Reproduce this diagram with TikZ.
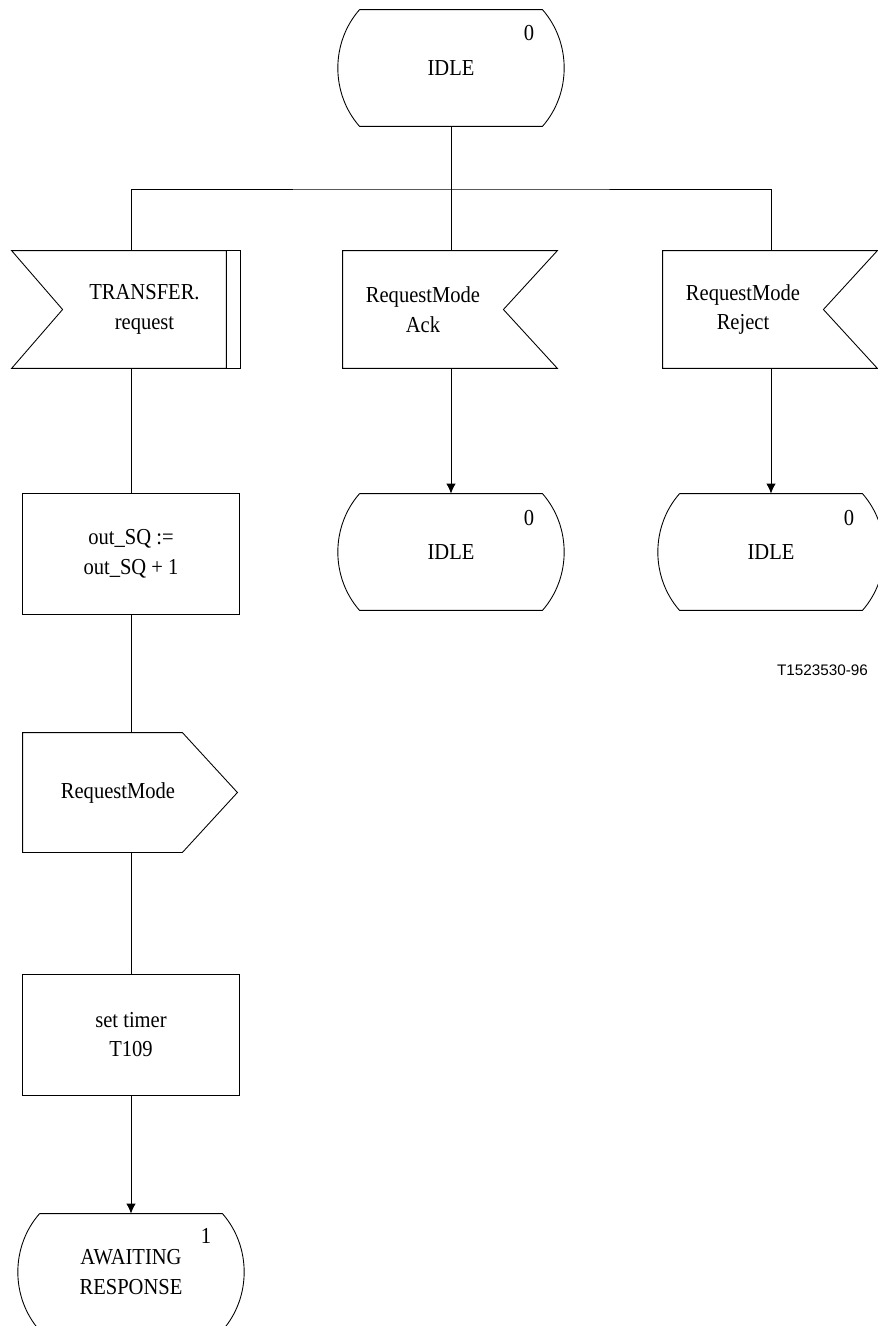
\documentclass[tikz,border=0pt]{standalone}
\usepackage{fontspec}
\setmainfont{Liberation Serif}[FakeStretch=0.9]
\setsansfont{Liberation Sans}
\usetikzlibrary{calc, arrows.meta}

\tikzset{
  base/.style={inner sep=0pt, align=center, font=\fontsize{13}{17}\selectfont},
  statebox/.style={base, minimum width=3.64cm, minimum height=2.32cm},
  taskbox/.style={base, draw, minimum width=4.34cm, minimum height=2.42cm},
  inbox/.style={base, minimum height=2.34cm},
  outbox/.style={base, minimum width=3.8cm, minimum height=2.38cm},
  flow/.style={-{Latex[length=2mm,width=1.9mm]}},
}

% SDL symbols drawn round a node
\newcommand{\statesym}[1]{%
  \draw (#1.north west) -- (#1.north east)
    .. controls +(29,33) and +(29,-33) .. (#1.south east)
    -- (#1.south west)
    .. controls +(-29,-33) and +(-29,33) .. (#1.north west);}
\newcommand{\insigL}[1]{%
  \draw ($(#1.north west)+(-51,0)$) -- (#1.north east) -- (#1.south east)
    -- ($(#1.south west)+(-51,0)$) -- (#1.west) -- cycle;}
\newcommand{\insigR}[1]{%
  \draw ($(#1.north east)+(54,0)$) -- (#1.north west) -- (#1.south west)
    -- ($(#1.south east)+(54,0)$) -- (#1.east) -- cycle;}
\newcommand{\outsigR}[1]{%
  \draw (#1.north west) -- ($(#1.north east)+(-31,0)$) -- ($(#1.east)+(24,0)$)
    -- ($(#1.south east)+(-31,0)$) -- (#1.south west) -- cycle;}

\begin{document}
\begin{tikzpicture}[x=0.02cm, y=-0.02cm, line width=0.5pt]
  \useasboundingbox (0,0) rectangle (877,1326);

  % states
  \node[statebox] (idle0) at (451,68) {IDLE};
  \node[base] (num0) at (529,33) {0};
  \node[statebox] (idle1) at (451,552) {IDLE};
  \node[base] (num1) at (529,518) {0};
  \node[statebox] (idle2) at (771,552) {IDLE};
  \node[base] (num2) at (849,518) {0};
  \node[statebox] (waiting) at (131,1272) {AWAITING\\RESPONSE};
  \node[base] (num3) at (206,1236) {1};
  \statesym{idle0}
  \statesym{idle1}
  \statesym{idle2}
  \statesym{waiting}

  % inputs
  \node[inbox, minimum width=3.26cm] (transfer) at (144.5,309.5) {TRANSFER.\\request};
  \node[inbox, minimum width=3.2cm] (ack) at (423,309.5) {RequestMode\\Ack};
  \node[inbox, minimum width=3.2cm] (reject) at (743,309.5) {RequestMode\\Reject};
  \insigL{transfer}
  \draw (transfer.north east) rectangle ($(transfer.south east)+(14,0)$);
  \insigR{ack}
  \insigR{reject}

  % tasks and output
  \node[taskbox] (incSQ) at (131,553.5) {out\_SQ :=\\out\_SQ + 1};
  \node[outbox] (sendRM) at (118,792.5) {RequestMode};
  \outsigR{sendRM}
  \node[taskbox] (timer) at (131,1034.5) {set timer\\T109};

  \node[font=\sffamily\fontsize{8.7}{10}\selectfont] (ref) at (822.5,670) {T1523530-96};

  % connectors
  \coordinate (bus) at (451,189);
  \draw (idle0.south) -- (bus);
  \draw (transfer.north -| incSQ) |- (bus) -| (reject.north -| idle2);
  \draw (bus) -- (ack.north -| idle1);
  \draw[flow] (ack.south -| idle1) -- (idle1.north);
  \draw[flow] (reject.south -| idle2) -- (idle2.north);
  \draw (transfer.south -| incSQ) -- (incSQ.north);
  \draw (incSQ.south) -- (sendRM.north -| incSQ);
  \draw (sendRM.south -| incSQ) -- (timer.north);
  \draw[flow] (timer.south) -- (waiting.north);
\end{tikzpicture}
\end{document}
